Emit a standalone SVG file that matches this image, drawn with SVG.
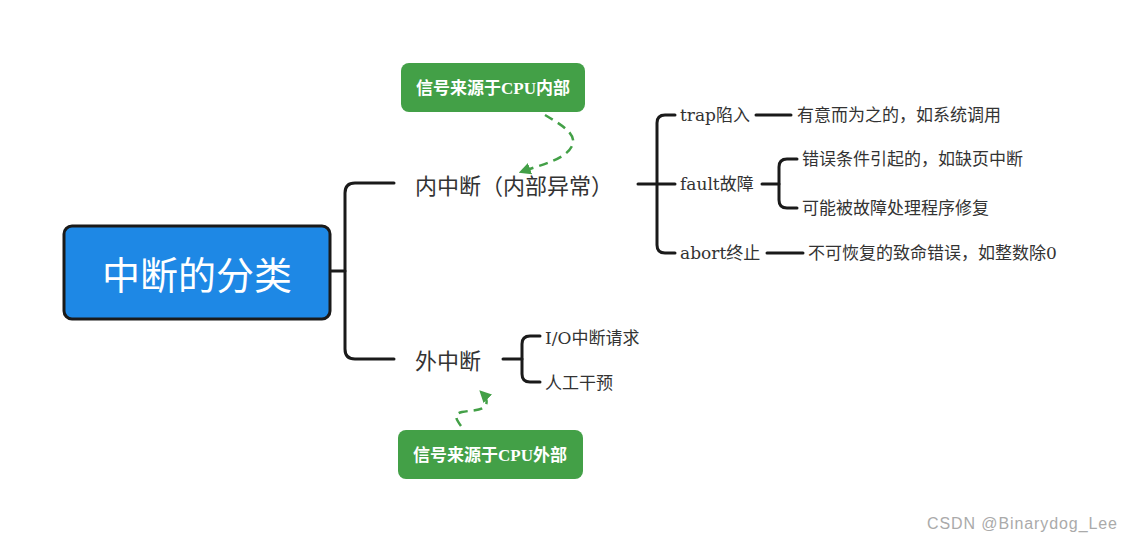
<svg xmlns="http://www.w3.org/2000/svg" width="1133" height="542" viewBox="0 0 1133 542">
<defs>
<style>
.ln{fill:none;stroke:#1a1a1a;stroke-width:3;stroke-linecap:round}
.dash{fill:none;stroke:#43a047;stroke-width:2.5;stroke-dasharray:9,6}
.big{font-family:"Noto Sans CJK SC","Noto Sans",sans-serif;font-size:22px;fill:#333;dominant-baseline:central}
.sm{font-family:"DejaVu Serif","Noto Sans CJK SC",serif;font-size:17px;fill:#333;dominant-baseline:central}
.note{font-family:"Liberation Serif","Noto Sans CJK SC",serif;font-size:17px;font-weight:bold;fill:#fff;text-anchor:middle;dominant-baseline:central}
.box{fill:#43a047}
</style>
<marker id="ah" viewBox="0 0 10 10" refX="8" refY="5" markerWidth="12" markerHeight="12" markerUnits="userSpaceOnUse" orient="auto">
<path d="M0,0 L10,5 L0,10 Z" fill="#43a047"/>
</marker>
</defs>
<rect width="1133" height="542" fill="#fff"/>
<g id="connectors">
<path class="ln" d="M330,271 H345"/>
<path class="ln" d="M394,183 H355 Q345,183 345,193 V349 Q345,359 355,359 H394"/>
<path class="ln" d="M638,184 H675"/>
<path class="ln" d="M675,115 H665 Q657,115 657,123 V245 Q657,253 665,253 H675"/>
<path class="ln" d="M756,115 H791"/>
<path class="ln" d="M762,184 H779"/>
<path class="ln" d="M797,159 H787 Q779,159 779,167 V200 Q779,208 787,208 H797"/>
<path class="ln" d="M767,253 H803"/>
<path class="ln" d="M503,359 H522"/>
<path class="ln" d="M540,336 H530 Q522,336 522,344 V374 Q522,382 530,382 H540"/>
<path class="dash" d="M545,115 C560,124 578,134 572,146 C565,160 540,165 521,172" marker-end="url(#ah)"/>
<path class="dash" d="M461,426 C455,418 454,414 462,412 C472,410 483,411 486,405 C488,400 485,396 481,392" marker-end="url(#ah)"/>
</g>
<g id="root">
<rect x="64" y="226" width="266" height="93" rx="8" fill="#1e88e5" stroke="#1a1a1a" stroke-width="3"/>
<text x="197" y="272" font-family="Noto Sans CJK SC,sans-serif" font-size="38" fill="#fff" text-anchor="middle" dominant-baseline="central">中断的分类</text>
</g>
<g id="internal"><text class="big" x="415" y="184">内中断（内部异常）</text></g>
<g id="external"><text class="big" x="415" y="359">外中断</text></g>
<g id="note-in">
<rect class="box" x="401" y="63" width="184" height="49" rx="8"/>
<text class="note" x="493" y="88">信号来源于CPU内部</text>
</g>
<g id="note-out">
<rect class="box" x="398" y="430" width="185" height="49" rx="8"/>
<text class="note" x="490" y="455">信号来源于CPU外部</text>
</g>
<g id="trap"><text class="sm" x="680" y="115">trap陷入</text></g>
<g id="trap-desc"><text class="sm" x="797" y="115">有意而为之的，如系统调用</text></g>
<g id="fault"><text class="sm" x="680" y="184">fault故障</text></g>
<g id="fault-desc1"><text class="sm" x="802" y="159">错误条件引起的，如缺页中断</text></g>
<g id="fault-desc2"><text class="sm" x="802" y="208">可能被故障处理程序修复</text></g>
<g id="abort"><text class="sm" x="680" y="253">abort终止</text></g>
<g id="abort-desc"><text class="sm" x="808" y="253">不可恢复的致命错误，如整数除0</text></g>
<g id="io"><text class="sm" x="545" y="338">I/O中断请求</text></g>
<g id="manual"><text class="sm" x="545" y="383">人工干预</text></g>
<text x="927" y="523" font-family="Liberation Sans,Arial,sans-serif" font-size="16" fill="#aaa" dominant-baseline="central" textLength="190" lengthAdjust="spacing">CSDN @Binarydog_Lee</text>
</svg>
